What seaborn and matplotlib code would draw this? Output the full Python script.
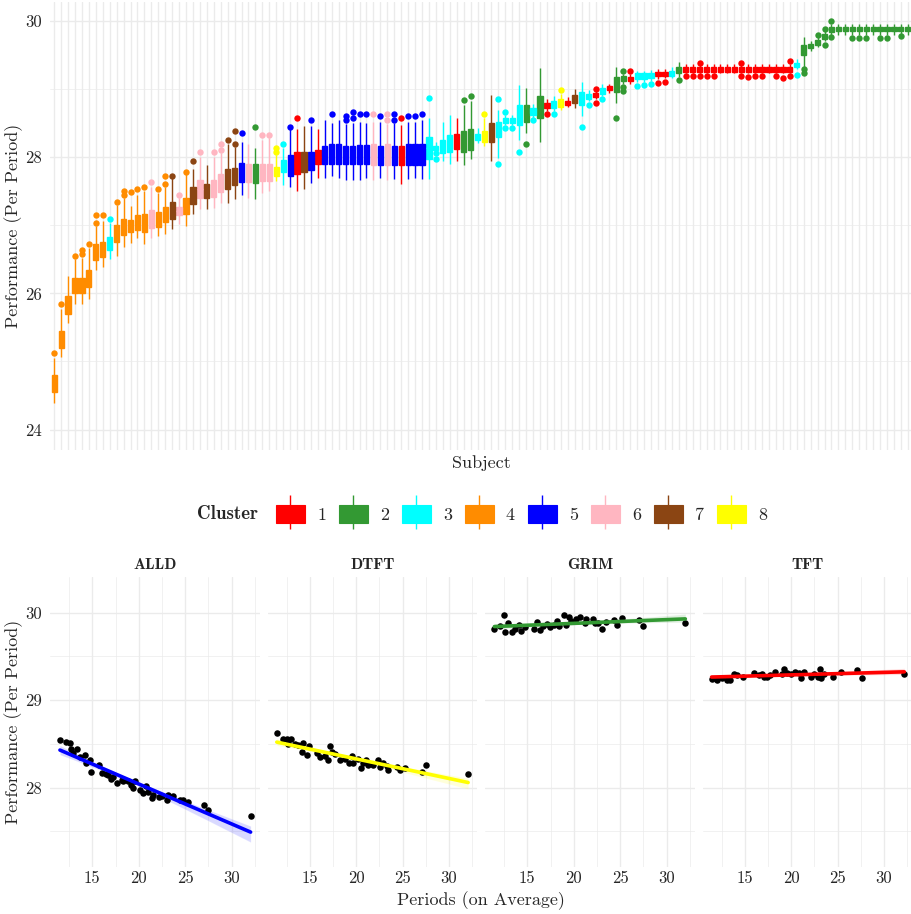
import numpy as np
import pandas as pd
import matplotlib
matplotlib.use("Agg")
import matplotlib.pyplot as plt
import seaborn as sns
from matplotlib.patches import Patch
from matplotlib.lines import Line2D
from matplotlib.legend_handler import HandlerTuple
from matplotlib.ticker import FixedLocator

# ---------------- data: top panel (one entry per subject, sorted) ----------------
cluster = [4, 4, 4, 4, 4, 4, 4, 4, 3, 4,
           4, 4, 4, 4, 6, 4, 4, 7, 6, 4,
           7, 6, 7, 6, 6, 7, 7, 5, 6, 2,
           6, 6, 8, 3, 5, 1, 7, 5, 1, 5,
           5, 5, 5, 5, 5, 5, 6, 5, 6, 5,
           1, 5, 5, 5, 3, 3, 3, 3, 1, 2,
           2, 3, 8, 7, 3, 3, 3, 3, 2, 3,
           2, 1, 3, 8, 1, 7, 3, 3, 1, 3,
           1, 2, 2, 1, 3, 3, 3, 1, 1, 3,
           2, 1, 1, 1, 1, 1, 1, 1, 1, 1,
           1, 1, 1, 1, 1, 1, 1, 3, 2, 2,
           2, 2, 2, 2, 2, 2, 2, 2, 2, 2,
           2, 2, 2, 2]

whisk_lo = [24.39, 25.06, 25.56, 25.85, 25.85, 25.92, 26.35, 26.39, 26.50, 26.55,
            26.68, 26.74, 26.81, 26.72, 26.81, 26.84, 26.87, 26.94, 27.02, 26.99,
            27.16, 27.24, 27.24, 27.26, 27.33, 27.33, 27.38, 27.44, 27.40, 27.38,
            27.47, 27.50, 27.65, 27.59, 27.57, 27.51, 27.53, 27.62, 27.69, 27.70,
            27.72, 27.69, 27.66, 27.67, 27.67, 27.69, 27.67, 27.69, 27.66, 27.68,
            27.60, 27.68, 27.69, 27.68, 27.68, 28.08, 27.94, 27.90, 27.94, 27.88,
            27.97, 28.21, 28.16, 27.95, 27.99, 28.48, 28.48, 28.26, 28.35, 28.58,
            28.23, 28.68, 28.68, 28.70, 28.74, 28.72, 28.60, 28.82, 28.85, 28.90,
            28.95, 28.79, 29.08, 29.08, 29.10, 29.10, 29.12, 29.15, 29.16, 29.17,
            29.18, 29.23, 29.23, 29.23, 29.23, 29.23, 29.23, 29.23, 29.23, 29.23,
            29.23, 29.23, 29.23, 29.23, 29.23, 29.23, 29.23, 29.29, 29.33, 29.56,
            29.62, 29.70, 29.80, 29.80, 29.80, 29.80, 29.80, 29.80, 29.80, 29.80,
            29.80, 29.80, 29.80, 29.80]

box_lo = [24.55, 25.20, 25.70, 26.00, 26.00, 26.10, 26.49, 26.53, 26.64, 26.75,
          26.86, 26.90, 26.93, 26.90, 26.96, 26.97, 27.05, 27.09, 27.15, 27.16,
          27.31, 27.40, 27.40, 27.41, 27.49, 27.54, 27.59, 27.63, 27.63, 27.62,
          27.65, 27.65, 27.72, 27.78, 27.73, 27.76, 27.78, 27.81, 27.90, 27.90,
          27.90, 27.90, 27.90, 27.90, 27.90, 27.90, 27.89, 27.89, 27.89, 27.89,
          27.88, 27.89, 27.89, 27.89, 27.97, 28.11, 28.06, 28.07, 28.12, 28.08,
          28.11, 28.26, 28.23, 28.23, 28.29, 28.51, 28.51, 28.48, 28.52, 28.62,
          28.58, 28.73, 28.73, 28.74, 28.77, 28.79, 28.77, 28.86, 28.88, 28.93,
          28.99, 28.96, 29.12, 29.12, 29.15, 29.15, 29.17, 29.20, 29.20, 29.20,
          29.24, 29.25, 29.25, 29.25, 29.25, 29.25, 29.25, 29.25, 29.25, 29.25,
          29.25, 29.25, 29.25, 29.25, 29.25, 29.25, 29.25, 29.32, 29.50, 29.60,
          29.65, 29.74, 29.84, 29.85, 29.85, 29.85, 29.85, 29.85, 29.85, 29.85,
          29.85, 29.85, 29.85, 29.85]

box_mid = [24.68, 25.32, 25.83, 26.12, 26.12, 26.22, 26.60, 26.64, 26.73, 26.88,
           26.97, 26.99, 27.04, 27.03, 27.09, 27.08, 27.16, 27.21, 27.21, 27.28,
           27.43, 27.53, 27.50, 27.53, 27.62, 27.68, 27.71, 27.77, 27.77, 27.76,
           27.77, 27.77, 27.78, 27.87, 27.88, 27.91, 27.92, 27.94, 28.00, 28.03,
           28.04, 28.04, 28.03, 28.04, 28.04, 28.04, 28.04, 28.02, 28.04, 28.02,
           28.02, 28.04, 28.04, 28.04, 28.14, 28.14, 28.16, 28.20, 28.23, 28.23,
           28.26, 28.30, 28.31, 28.37, 28.40, 28.54, 28.54, 28.62, 28.64, 28.67,
           28.74, 28.77, 28.78, 28.80, 28.80, 28.85, 28.86, 28.90, 28.91, 28.97,
           29.02, 29.07, 29.15, 29.15, 29.19, 29.19, 29.21, 29.22, 29.23, 29.24,
           29.29, 29.29, 29.29, 29.29, 29.29, 29.29, 29.29, 29.29, 29.29, 29.29,
           29.29, 29.29, 29.29, 29.29, 29.29, 29.29, 29.29, 29.35, 29.58, 29.63,
           29.68, 29.77, 29.87, 29.88, 29.88, 29.88, 29.88, 29.88, 29.88, 29.88,
           29.88, 29.88, 29.88, 29.88]

box_hi = [24.80, 25.45, 25.96, 26.23, 26.23, 26.35, 26.72, 26.75, 26.83, 27.00,
          27.09, 27.08, 27.15, 27.16, 27.22, 27.20, 27.27, 27.34, 27.27, 27.40,
          27.56, 27.66, 27.60, 27.66, 27.75, 27.82, 27.84, 27.92, 27.90, 27.90,
          27.90, 27.90, 27.85, 27.96, 28.03, 28.07, 28.07, 28.08, 28.11, 28.17,
          28.19, 28.19, 28.16, 28.17, 28.18, 28.18, 28.19, 28.16, 28.19, 28.16,
          28.16, 28.19, 28.19, 28.19, 28.30, 28.17, 28.26, 28.33, 28.34, 28.38,
          28.41, 28.34, 28.39, 28.51, 28.52, 28.57, 28.57, 28.77, 28.77, 28.72,
          28.90, 28.80, 28.83, 28.85, 28.83, 28.92, 28.96, 28.93, 28.94, 29.02,
          29.05, 29.18, 29.19, 29.18, 29.23, 29.23, 29.24, 29.25, 29.25, 29.27,
          29.33, 29.33, 29.33, 29.33, 29.33, 29.33, 29.33, 29.33, 29.33, 29.33,
          29.33, 29.33, 29.33, 29.33, 29.33, 29.33, 29.33, 29.39, 29.65, 29.67,
          29.72, 29.81, 29.91, 29.91, 29.91, 29.91, 29.91, 29.91, 29.91, 29.91,
          29.91, 29.91, 29.91, 29.91]

whisk_hi = [25.05, 25.77, 26.26, 26.50, 26.52, 26.67, 26.99, 27.06, 27.04, 27.30,
            27.40, 27.28, 27.45, 27.50, 27.57, 27.47, 27.57, 27.69, 27.40, 27.76,
            27.82, 28.01, 27.89, 28.01, 28.06, 28.19, 28.15, 28.23, 28.20, 28.14,
            28.26, 28.28, 28.03, 28.14, 28.41, 28.41, 28.46, 28.46, 28.41, 28.54,
            28.50, 28.55, 28.49, 28.50, 28.52, 28.50, 28.52, 28.52, 28.49, 28.50,
            28.47, 28.52, 28.52, 28.54, 28.57, 28.22, 28.52, 28.62, 28.57, 28.77,
            28.82, 28.43, 28.57, 28.91, 28.70, 28.62, 28.62, 29.06, 29.01, 28.78,
            29.31, 28.85, 28.90, 28.93, 28.88, 29.00, 29.11, 28.99, 28.97, 29.08,
            29.08, 29.33, 29.22, 29.22, 29.27, 29.27, 29.28, 29.29, 29.29, 29.32,
            29.40, 29.37, 29.37, 29.37, 29.37, 29.37, 29.37, 29.37, 29.37, 29.37,
            29.37, 29.37, 29.37, 29.37, 29.37, 29.37, 29.37, 29.45, 29.77, 29.70,
            29.76, 29.85, 29.95, 29.96, 29.96, 29.96, 29.96, 29.96, 29.96, 29.96,
            29.96, 29.96, 29.96, 29.96]

outliers = [[25.12], [25.85], [], [26.55], [26.58, 26.64], [26.72], [27.03, 27.15], [27.15], [27.10], [27.34],
            [27.45, 27.51], [27.49], [27.53], [27.57], [27.63], [27.54], [27.60, 27.72], [27.72], [27.44], [27.79],
            [27.94], [28.08], [], [28.07], [28.11, 28.19], [28.25], [28.20, 28.38], [28.36], [], [28.45],
            [28.32], [28.33], [28.07, 28.14], [28.20], [28.44], [28.57], [], [28.54], [], [],
            [28.64], [], [28.55, 28.61], [28.57, 28.67], [28.63], [28.63], [28.63], [28.60], [28.55, 28.63], [28.54, 28.63],
            [28.57], [28.61], [28.61], [28.63], [28.87], [27.98, 28.06], [], [], [], [28.84],
            [28.90], [], [28.63], [], [27.90, 28.85], [28.43, 28.67], [28.43], [28.07], [28.20], [28.54],
            [], [28.64], [28.63], [28.99], [], [], [28.44], [28.77], [28.80, 29.00], [28.86],
            [], [28.57], [28.98, 29.03, 29.26], [29.26], [29.04], [29.06], [29.08], [29.09], [29.11], [],
            [29.14], [29.20], [29.20], [29.20, 29.39], [29.20], [29.20], [], [], [], [29.19, 29.39],
            [29.18], [29.20], [29.20], [], [29.20], [29.17], [29.20, 29.41], [29.21], [29.23, 29.30], [],
            [29.80], [29.65, 29.88], [29.77, 30.00], [], [], [29.75], [29.75], [29.75], [], [29.75],
            [29.75], [], [29.78], []]

cluster_names = [1, 2, 3, 4, 5, 6, 7, 8]
cluster_colors = ["#FF0000", "#339933", "#00FFFF", "#FF8C00",
                  "#0000FF", "#FFB6C1", "#8B4513", "#FFFF00"]

# ---------------- data: bottom facets ----------------
strategies = ["ALLD", "DTFT", "GRIM", "TFT"]
strategy_colors = ["#0000FF", "#FFFF00", "#339933", "#FF0000"]

alld_x = [11.52, 12.13, 12.60, 12.67, 12.96, 13.39, 13.67, 14.20, 14.30, 14.75, 14.90, 15.75, 16.00, 16.47,
          16.72, 17.00, 17.26, 17.69, 18.15, 18.33, 18.87, 19.12, 19.41, 19.59, 20.13, 20.48, 20.77, 21.02,
          21.38, 21.49, 22.20, 22.46, 22.99, 23.17, 23.64, 24.43, 24.78, 25.32, 27.00, 27.47, 32.03]
alld_y = [28.54, 28.52, 28.51, 28.44, 28.40, 28.44, 28.35, 28.37, 28.28, 28.31, 28.18, 28.26, 28.17, 28.16,
          28.14, 28.10, 28.12, 28.05, 28.09, 28.07, 28.08, 28.03, 28.00, 28.07, 27.97, 27.94, 28.02, 27.95,
          27.88, 27.91, 27.89, 27.90, 27.86, 27.91, 27.90, 27.86, 27.86, 27.83, 27.80, 27.74, 27.67]

dtft_x = [11.40, 12.05, 12.48, 12.66, 12.91, 13.38, 13.74, 14.10, 14.28, 14.71, 14.93, 15.72, 16.08, 16.62,
          16.98, 17.16, 17.34, 17.70, 18.24, 18.78, 19.24, 19.50, 19.68, 20.22, 20.47, 20.76, 21.04, 21.29,
          21.83, 22.37, 22.55, 22.91, 23.27, 23.45, 24.35, 24.71, 25.25, 27.05, 27.48, 32.08]
dtft_y = [28.62, 28.55, 28.56, 28.50, 28.56, 28.50, 28.49, 28.41, 28.51, 28.37, 28.47, 28.40, 28.35, 28.36,
          28.32, 28.47, 28.41, 28.38, 28.31, 28.33, 28.28, 28.36, 28.28, 28.33, 28.22, 28.28, 28.31, 28.26,
          28.26, 28.31, 28.24, 28.28, 28.25, 28.20, 28.23, 28.20, 28.22, 28.18, 28.26, 28.16]

grim_x = [11.46, 12.07, 12.54, 12.61, 12.96, 13.32, 13.68, 14.14, 14.29, 14.75, 15.71, 16.07, 16.36, 16.71,
          17.14, 17.43, 17.86, 18.21, 18.43, 18.93, 19.21, 19.50, 19.75, 20.29, 20.71, 21.18, 21.36, 22.07,
          22.25, 22.61, 23.07, 23.50, 24.29, 24.64, 25.21, 27.00, 27.43, 32.00]
grim_y = [29.82, 29.85, 29.97, 29.78, 29.88, 29.78, 29.81, 29.86, 29.79, 29.84, 29.82, 29.90, 29.80, 29.85,
          29.87, 29.84, 29.86, 29.91, 29.85, 29.97, 29.86, 29.95, 29.91, 29.93, 29.95, 29.88, 29.93, 29.93,
          29.88, 29.88, 29.82, 29.90, 29.92, 29.86, 29.94, 29.92, 29.85, 29.88]

tft_x = [11.38, 11.92, 12.46, 13.00, 13.37, 13.80, 14.09, 14.82, 15.91, 16.45, 16.81, 17.07, 17.36, 17.72,
         18.26, 18.99, 19.24, 19.53, 19.96, 20.43, 20.80, 21.05, 21.41, 22.07, 22.43, 22.86, 23.08, 23.22,
         23.51, 24.53, 25.33, 27.14, 27.61, 32.21]
tft_y = [29.24, 29.23, 29.25, 29.23, 29.23, 29.30, 29.29, 29.27, 29.31, 29.29, 29.30, 29.26, 29.27, 29.29,
         29.32, 29.30, 29.36, 29.31, 29.30, 29.32, 29.31, 29.25, 29.32, 29.26, 29.30, 29.27, 29.36, 29.25,
         29.30, 29.27, 29.32, 29.35, 29.25, 29.30]

facet_x = [alld_x, dtft_x, grim_x, tft_x]
facet_y = [alld_y, dtft_y, grim_y, tft_y]

# ---------------- styling ----------------
sns.set_theme(style="white")
plt.rcParams["font.family"] = ["cmr10", "DejaVu Serif"]
BOLD = ["cmb10", "DejaVu Serif"]
GRID = "#EBEBEB"

W, H = 912, 914
fig = plt.figure(figsize=(W / 100, H / 100), dpi=100)


def rect(l, t, r, b):
    return [l / W, 1 - b / H, (r - l) / W, (b - t) / H]


# ---------------- top panel ----------------
n = len(cluster)
subjects = [f"S{i:03d}" for i in range(1, n + 1)]
rows = []
for s, c, a, b, m, d, e in zip(subjects, cluster, whisk_lo, box_lo, box_mid, box_hi, whisk_hi):
    for v in (a, b, m, d, e):
        rows.append((s, c, v))
box_df = pd.DataFrame(rows, columns=["subject", "cluster", "perf"])
out_df = pd.DataFrame([(s, c, v) for s, c, o in zip(subjects, cluster, outliers) for v in o],
                      columns=["subject", "cluster", "perf"])

ax = fig.add_axes(rect(50, 2, 912, 450))
for k, col in zip(cluster_names, cluster_colors):
    sub = box_df[box_df["cluster"] == k]
    sns.boxplot(data=sub, x="subject", y="perf", order=subjects, color=col, linecolor=col,
                linewidth=1.0, width=0.75, whis=np.inf, showcaps=False, saturation=1, ax=ax)
    so = out_df[out_df["cluster"] == k]
    if len(so):
        sns.stripplot(data=so, x="subject", y="perf", order=subjects, color=col, jitter=False,
                      size=4.6, linewidth=0, ax=ax)

ax.set_xlim(-0.6, n - 1 + 0.6)
ax.set_ylim(23.7, 30.28)
ax.set_xticks(range(n))
ax.set_xticklabels([])
ax.set_yticks([24, 26, 28, 30])
ax.set_yticklabels(["24", "26", "28", "30"])
ax.yaxis.set_minor_locator(FixedLocator([25, 27, 29]))
ax.grid(True, which="major", axis="both", color=GRID, lw=1.0)
ax.grid(True, which="minor", axis="y", color=GRID, lw=0.5)
ax.set_axisbelow(True)
for sp in ax.spines.values():
    sp.set_visible(False)
ax.tick_params(which="both", length=0, labelsize=12, pad=6)
ax.set_xlabel("")
ax.set_ylabel("")

fig.text(14 / W, 1 - 226 / H, "Performance (Per Period)", rotation=90, ha="center", va="center", fontsize=13)
fig.text(481 / W, 1 - 463 / H, "Subject", ha="center", va="center", fontsize=13)

# ---------------- legend ----------------
fig.text(197 / W, 1 - 514 / H, "Cluster", ha="left", va="center", fontsize=13.5, family=BOLD)
handles = [(Patch(facecolor=c, edgecolor=c, lw=0.8),
            Line2D([0], [0], color=c, marker="|", markersize=24.5, mew=1.0, linestyle="None"))
           for c in cluster_colors]
fig.legend(handles, [str(k) for k in cluster_names], handler_map={tuple: HandlerTuple(ndivide=1, pad=0)},
           loc="center left", bbox_to_anchor=(276 / W, 1 - 514 / H), ncol=8, frameon=False,
           fontsize=13, handlelength=1.6, handleheight=1.2, handletextpad=0.67, columnspacing=0.72,
           borderpad=0, borderaxespad=0)

# ---------------- bottom facets ----------------
panels = [(50, 260), (268, 477), (485, 695), (703, 912)]
for i, (name, col, (l, r)) in enumerate(zip(strategies, strategy_colors, panels)):
    a = fig.add_axes(rect(l, 577, r, 867))
    df = pd.DataFrame({"periods": facet_x[i], "perf": facet_y[i]})
    sns.regplot(data=df, x="periods", y="perf", ax=a, color=col, ci=95, seed=0,
                scatter_kws=dict(color="black", s=22, linewidths=0, alpha=1, zorder=2),
                line_kws=dict(color=col, lw=2.6, zorder=3))
    a.set_xlim(10.45, 33.04)
    a.set_ylim(27.09, 30.41)
    a.set_xticks([15, 20, 25, 30])
    a.set_xticklabels(["15", "20", "25", "30"])
    a.set_yticks([28, 29, 30])
    if i == 0:
        a.set_yticklabels(["28", "29", "30"])
    else:
        a.set_yticklabels([])
    a.xaxis.set_minor_locator(FixedLocator([12.5, 17.5, 22.5, 27.5, 32.5]))
    a.yaxis.set_minor_locator(FixedLocator([27.5, 28.5, 29.5]))
    a.grid(True, which="major", color=GRID, lw=1.0)
    a.grid(True, which="minor", color=GRID, lw=0.5)
    a.set_axisbelow(True)
    for sp in a.spines.values():
        sp.set_visible(False)
    a.tick_params(axis="y", which="both", length=0, labelsize=12, pad=6)
    a.tick_params(axis="x", which="both", length=0, labelsize=12, pad=2.5)
    a.set_xlabel("")
    a.set_ylabel("")
    fig.text((l + r) / 2 / W, 1 - 565 / H, name, ha="center", va="center", fontsize=11.5, family=BOLD)

fig.text(14 / W, 1 - 722 / H, "Performance (Per Period)", rotation=90, ha="center", va="center", fontsize=13)
fig.text(481 / W, 1 - 901 / H, "Periods (on Average)", ha="center", va="center", fontsize=13)

fig.savefig("out.png", dpi=100)
